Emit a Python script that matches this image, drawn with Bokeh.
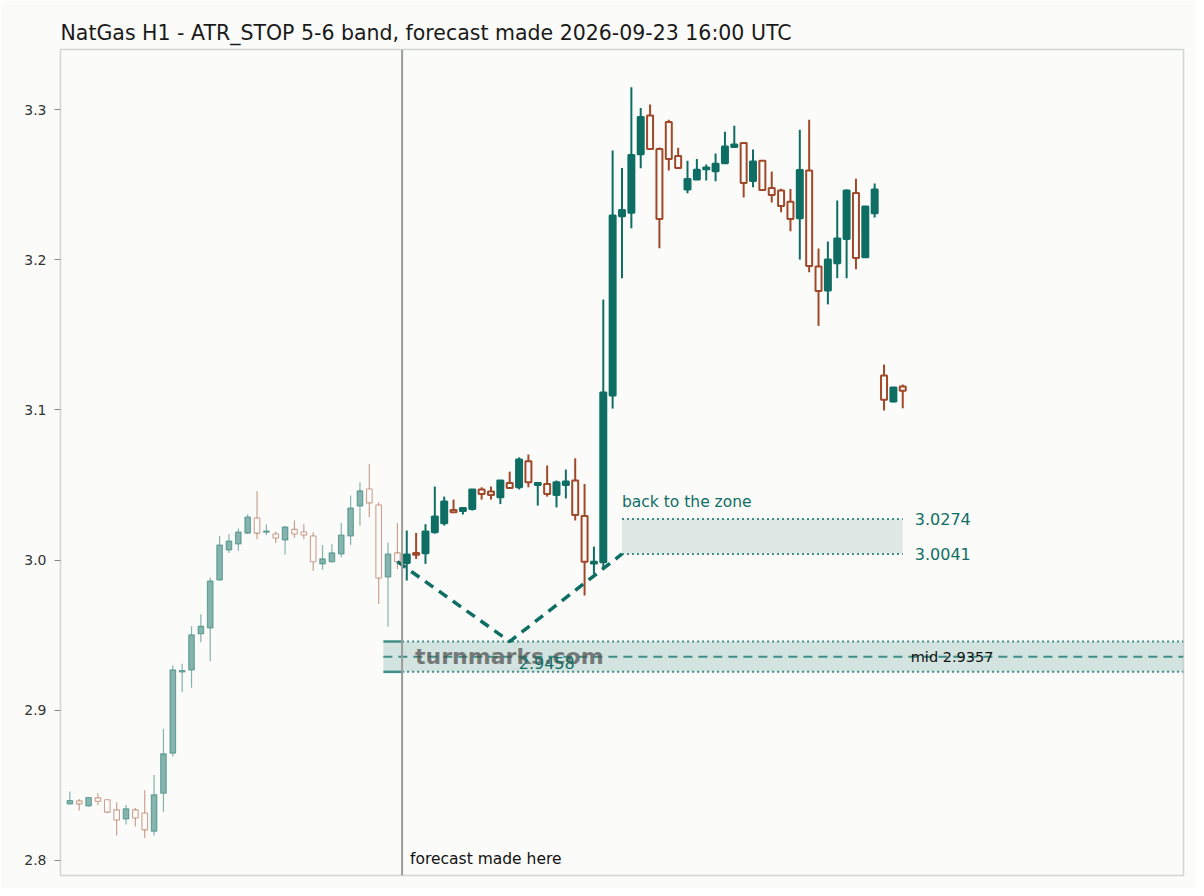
from bokeh.plotting import figure
from bokeh.models import ColumnDataSource, Range1d, FixedTicker, Label, Span, CustomJSTickFormatter
from bokeh.embed import file_html
from bokeh.resources import INLINE

# ---------------- data ----------------
hist_open  = [2.8376, 2.8397, 2.8363, 2.8417, 2.8404, 2.8337, 2.8276, 2.8337, 2.8316, 2.8195,
              2.8448, 2.8715, 2.9255, 2.9268, 2.9510, 2.9548, 2.9868, 3.0067, 3.0107, 3.0180,
              3.0280, 3.0186, 3.0174, 3.0134, 3.0205, 3.0187, 3.0161, 2.9975, 2.9989, 3.0041,
              3.0161, 3.0361, 3.0474, 3.0367, 2.9888, 3.0048]
hist_high  = [2.8460, 2.8410, 2.8421, 2.8448, 2.8406, 2.8388, 2.8370, 2.8350, 2.8468, 2.8570,
              2.8877, 2.9298, 2.9310, 2.9560, 2.9640, 2.9885, 3.0161, 3.0174, 3.0211, 3.0306,
              3.0458, 3.0237, 3.0190, 3.0228, 3.0265, 3.0238, 3.0185, 3.0101, 3.0105, 3.0247,
              3.0430, 3.0518, 3.0640, 3.0385, 3.0118, 3.0247]
hist_low   = [2.8372, 2.8333, 2.8360, 2.8370, 2.8318, 2.8166, 2.8240, 2.8226, 2.8150, 2.8166,
              2.8324, 2.8692, 2.9120, 2.9150, 2.9453, 2.9326, 2.9862, 3.0048, 3.0063, 3.0174,
              3.0139, 3.0168, 3.0114, 3.0037, 3.0147, 3.0139, 2.9929, 2.9936, 2.9983, 3.0019,
              3.0101, 3.0229, 3.0285, 2.9708, 2.9557, 2.9941]
hist_close = [2.8399, 2.8377, 2.8419, 2.8394, 2.8322, 2.8270, 2.8344, 2.8283, 2.8204, 2.8437,
              2.8710, 2.9269, 2.9265, 2.9502, 2.9559, 2.9861, 3.0101, 3.0127, 3.0187, 3.0287,
              3.0180, 3.0194, 3.0147, 3.0221, 3.0174, 3.0167, 2.9989, 3.0008, 3.0048, 3.0167,
              3.0347, 3.0461, 3.0381, 2.9881, 3.0041, 2.9990]

fc_open  = [2.9980, 3.0048, 3.0046, 3.0185, 3.0245, 3.0334, 3.0327, 3.0340, 3.0470, 3.0457,
            3.0418, 3.0514, 3.0485, 3.0658, 3.0500, 3.0507, 3.0434, 3.0500, 3.0530, 3.0294,
            2.9977, 2.9986, 3.1096, 3.2289, 3.2313, 3.2702, 3.2960, 3.2737, 3.2917, 3.2691,
            3.2467, 3.2535, 3.2603, 3.2589, 3.2642, 3.2751, 3.2778, 3.2524, 3.2659, 3.2478,
            3.2461, 3.2387, 3.2276, 3.2594, 3.1955, 3.1795, 3.1977, 3.2138, 3.2445, 3.2016,
            3.2309, 3.1229, 3.1057, 3.1156]
fc_high  = [3.0197, 3.0181, 3.0239, 3.0490, 3.0423, 3.0403, 3.0349, 3.0472, 3.0485, 3.0490,
            3.0532, 3.0589, 3.0684, 3.0703, 3.0516, 3.0630, 3.0530, 3.0603, 3.0678, 3.0507,
            3.0090, 3.1735, 3.2727, 3.2611, 3.3148, 3.3011, 3.3033, 3.2748, 3.2933, 3.2746,
            3.2660, 3.2671, 3.2634, 3.2707, 3.2853, 3.2893, 3.2780, 3.2734, 3.2662, 3.2587,
            3.2472, 3.2471, 3.2866, 3.2933, 3.2075, 3.2121, 3.2394, 3.2467, 3.2540, 3.2356,
            3.2507, 3.1302, 3.1149, 3.1169]
fc_low   = [2.9864, 3.0008, 2.9975, 3.0177, 3.0230, 3.0316, 3.0304, 3.0330, 3.0403, 3.0403,
            3.0373, 3.0478, 3.0471, 3.0485, 3.0363, 3.0423, 3.0351, 3.0411, 3.0264, 2.9764,
            2.9908, 2.9940, 3.1009, 3.1877, 3.2209, 3.2609, 3.2735, 3.2077, 3.2594, 3.2608,
            3.2442, 3.2533, 3.2527, 3.2522, 3.2640, 3.2750, 3.2415, 3.2482, 3.2462, 3.2382,
            3.2316, 3.2189, 3.2001, 3.1917, 3.1560, 3.1703, 3.1877, 3.1877, 3.1937, 3.2014,
            3.2282, 3.0996, 3.1050, 3.1011]
fc_close = [3.0037, 3.0035, 3.0190, 3.0290, 3.0390, 3.0318, 3.0347, 3.0470, 3.0441, 3.0434,
            3.0530, 3.0480, 3.0670, 3.0518, 3.0514, 3.0440, 3.0518, 3.0523, 3.0301, 2.9989,
            2.9989, 3.1116, 3.2294, 3.2332, 3.2697, 3.2951, 3.2737, 3.2272, 3.2671, 3.2611,
            3.2538, 3.2600, 3.2614, 3.2640, 3.2754, 3.2767, 3.2511, 3.2654, 3.2465, 3.2431,
            3.2358, 3.2271, 3.2598, 3.1959, 3.1792, 3.2001, 3.2141, 3.2461, 3.2012, 3.2354,
            3.2467, 3.1067, 3.1149, 3.1127]

band_low, band_mid, band_high = 2.9256, 2.9357, 2.9458
zone_low, zone_high = 3.0041, 3.0274
path_x = [35, 47, 59]
path_y = [2.9990, 2.9458, 3.0041]
forecast_at = 35.5
band_start = 33.5
zone_start, zone_end = 59, 89
y_ticks = [2.8, 2.9, 3.0, 3.1, 3.2, 3.3]

TITLE = "NatGas H1 - ATR_STOP 5-6 band, forecast made 2026-09-23 16:00 UTC"

# ---------------- style ----------------
BG = "#fbfbf9"
TEAL = "#0f6e64"
RED = "#a0482a"
FONT = "DejaVu Sans"
X_END = 119

p = figure(width=1196, height=888, output_backend="svg", toolbar_location=None,
           x_range=Range1d(-1, X_END), y_range=Range1d(2.790, 3.340),
           min_border_left=60, min_border_right=13, min_border_top=49, min_border_bottom=13,
           background_fill_color=BG, border_fill_color=BG)
p.title.text = TITLE
p.title.text_font = FONT
p.title.text_font_size = "20.5px"
p.title.text_font_style = "normal"
p.title.text_color = "#1a1a1a"
p.title.offset = 0

p.xaxis.visible = False
p.xgrid.visible = False
p.ygrid.visible = False
p.outline_line_color = "#d3d7d3"
p.outline_line_width = 1.5
p.yaxis.ticker = FixedTicker(ticks=y_ticks)
p.yaxis.formatter = CustomJSTickFormatter(code="return tick.toFixed(1);")
p.yaxis.axis_line_color = "#d3d7d3"
p.yaxis.major_tick_line_color = "#888888"
p.yaxis.major_tick_out = 6
p.yaxis.major_tick_in = 0
p.yaxis.minor_tick_line_color = None
p.yaxis.major_label_text_font = FONT
p.yaxis.major_label_text_font_size = "14px"
p.yaxis.major_label_text_color = "#333333"
p.yaxis.major_label_standoff = 8


def candles(xs, o, h, l, c, width, wick_w, body_lw, alpha):
    up = [i for i in range(len(o)) if c[i] >= o[i]]
    dn = [i for i in range(len(o)) if c[i] < o[i]]
    for idx, color, hollow in ((up, TEAL, False), (dn, RED, True)):
        src = ColumnDataSource(dict(
            x=[xs[i] for i in idx],
            top=[max(o[i], c[i]) for i in idx],
            bottom=[min(o[i], c[i]) for i in idx],
            hi=[h[i] for i in idx],
            lo=[l[i] for i in idx],
        ))
        p.segment(x0="x", y0="hi", x1="x", y1="top", source=src, line_color=color,
                  line_width=wick_w, line_alpha=alpha)
        p.segment(x0="x", y0="bottom", x1="x", y1="lo", source=src, line_color=color,
                  line_width=wick_w, line_alpha=alpha)
        if hollow:
            p.vbar(x="x", top="top", bottom="bottom", width=width, source=src,
                   fill_color=BG, fill_alpha=1.0, line_color=color, line_width=body_lw,
                   line_alpha=alpha)
        else:
            p.vbar(x="x", top="top", bottom="bottom", width=width, source=src,
                   fill_color=color, fill_alpha=alpha, line_color=color, line_width=body_lw,
                   line_alpha=alpha)


# band (lower zone)
p.quad(left=band_start, right=X_END, bottom=band_low, top=band_high,
       fill_color=TEAL, fill_alpha=0.17, line_color=None)
for yv in (band_low, band_high):
    p.segment(x0=band_start, x1=forecast_at, y0=yv, y1=yv, line_color="#3f8f86", line_width=2.5)
    p.segment(x0=forecast_at, x1=X_END, y0=yv, y1=yv, line_color="#3f8f86", line_width=2,
              line_dash="2 3")
p.segment(x0=band_start, x1=X_END, y0=band_mid, y1=band_mid, line_color="#3f8f86",
          line_width=2, line_dash="9 6")

# target zone
p.quad(left=zone_start, right=zone_end, bottom=zone_low, top=zone_high,
       fill_color=TEAL, fill_alpha=0.12, line_color=None)
for yv in (zone_low, zone_high):
    p.segment(x0=zone_start, x1=zone_end, y0=yv, y1=yv, line_color="#3f8f86", line_width=2,
              line_dash="2 3")

# history candles (faded)
candles(list(range(len(hist_open))), hist_open, hist_high, hist_low, hist_close,
        0.6, 1.2, 1.1, 0.5)

# forecast vertical line
p.add_layout(Span(location=forecast_at, dimension="height", line_color="#9a9c9a", line_width=2))

# forecast candles
n0 = len(hist_open)
candles(list(range(n0, n0 + len(fc_open))), fc_open, fc_high, fc_low, fc_close,
        0.64, 2.0, 2.0, 1.0)

# expected path
p.line(path_x, path_y, line_color=TEAL, line_width=3.5, line_dash="10 7")

# labels
p.add_layout(Label(x=forecast_at, y=band_mid, text="turnmarks.com", x_offset=13,
                   text_baseline="middle", text_font=FONT, text_font_size="22px",
                   text_font_style="bold", text_color="#555555", text_alpha=0.75))
p.add_layout(Label(x=path_x[1], y=band_high, text=f"{band_high:.4f}", x_offset=9, y_offset=-21,
                   text_baseline="middle", text_font=FONT, text_font_size="16px",
                   text_color=TEAL))
p.add_layout(Label(x=zone_end, y=band_mid, text=f"mid {band_mid:.4f}", x_offset=8,
                   text_baseline="middle", text_font=FONT, text_font_size="14.5px",
                   text_color="#111111"))
p.add_layout(Label(x=zone_end, y=zone_high, text=f"{zone_high:.4f}", x_offset=12,
                   text_baseline="middle", text_font=FONT, text_font_size="16px",
                   text_color=TEAL))
p.add_layout(Label(x=zone_end, y=zone_low, text=f"{zone_low:.4f}", x_offset=12,
                   text_baseline="middle", text_font=FONT, text_font_size="16px",
                   text_color=TEAL))
p.add_layout(Label(x=zone_start, y=zone_high, text="back to the zone", y_offset=8,
                   text_baseline="bottom", text_font=FONT, text_font_size="15.5px",
                   text_color=TEAL))
p.add_layout(Label(x=forecast_at, y=2.790, text="forecast made here", x_offset=8, y_offset=17,
                   text_baseline="middle", text_font=FONT, text_font_size="15.5px",
                   text_color="#111111"))

open("out.html", "w").write(file_html(p, INLINE))
